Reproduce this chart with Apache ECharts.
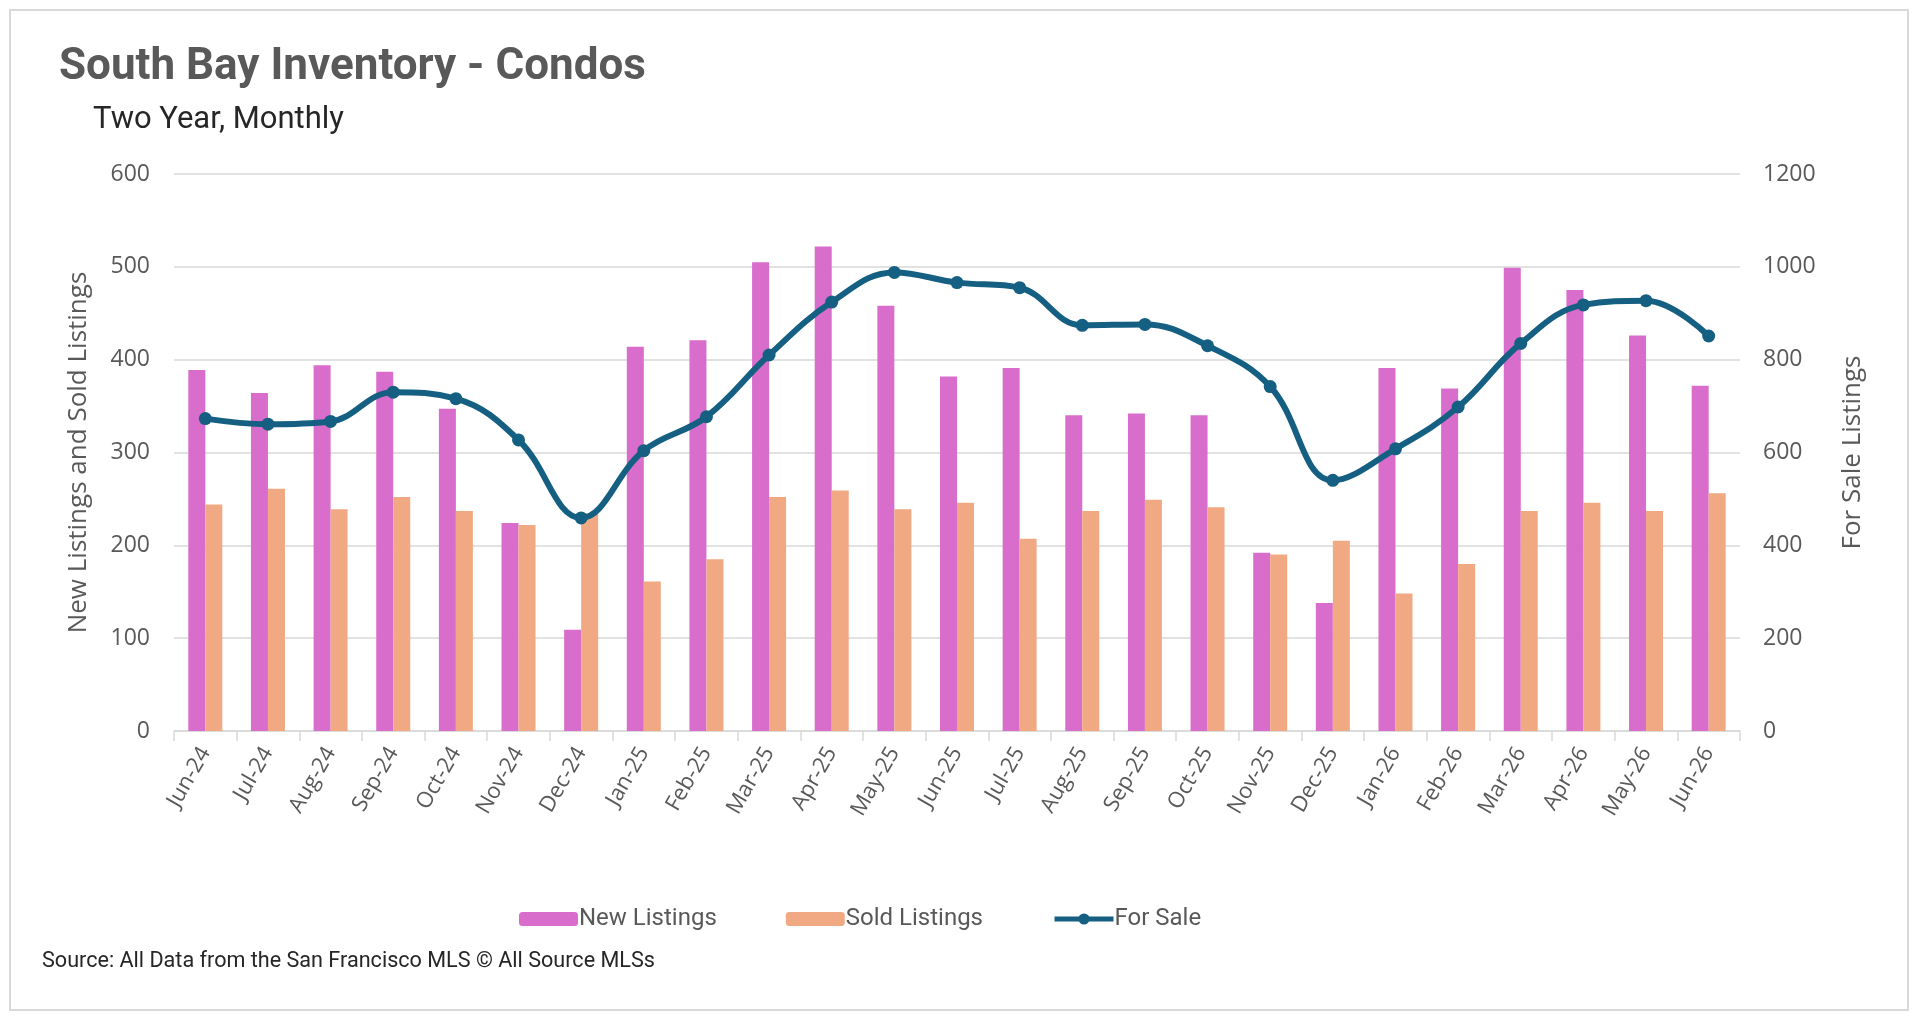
<!DOCTYPE html>
<html>
<head>
<meta charset="utf-8">
<title>South Bay Inventory - Condos</title>
<script src="https://cdn.jsdelivr.net/npm/echarts@6/dist/echarts.min.js"></script>
<style>
  html, body { margin: 0; padding: 0; background: #fff; }
  #chart_001 { width: 1920px; height: 1016px; }
</style>
</head>
<body>
<div id="chart_001"></div>
<script>
var months = ['Jun-24','Jul-24','Aug-24','Sep-24','Oct-24','Nov-24','Dec-24','Jan-25','Feb-25','Mar-25','Apr-25','May-25',
              'Jun-25','Jul-25','Aug-25','Sep-25','Oct-25','Nov-25','Dec-25','Jan-26','Feb-26','Mar-26','Apr-26','May-26','Jun-26'];
var newListings  = [389, 364, 394, 387, 347, 224, 109, 414, 421, 505, 522, 458, 382, 391, 340, 342, 340, 192, 138, 391, 369, 499, 475, 426, 372];
var soldListings = [244, 261, 239, 252, 237, 222, 234, 161, 185, 252, 259, 239, 246, 207, 237, 249, 241, 190, 205, 148, 180, 237, 246, 237, 256];
var forSale      = [673, 661, 667, 730, 716, 627, 459, 604, 677, 810, 924, 988, 966, 955, 874, 876, 830, 742, 540, 608, 698, 835, 918, 927, 851];
var leftTicks  = [0, 100, 200, 300, 400, 500, 600];
var rightTicks = [0, 200, 400, 600, 800, 1000, 1200];

var textFont = "Roboto, 'Liberation Sans', sans-serif";
var axisFont = "'Open Sans', Roboto, sans-serif";
var grey = '#595959';

var myChart = echarts.init(document.getElementById('chart_001'));

var option = {
    backgroundColor: '#ffffff',
    animation: false,
    title: [
        {
            text: 'South Bay Inventory - Condos',
            left: 54, top: 41,
            textStyle: { fontFamily: textFont, fontSize: 44, fontWeight: 'bold', color: grey }
        },
        {
            text: 'Two Year, Monthly',
            left: 88, top: 100,
            textStyle: { fontFamily: textFont, fontSize: 31, fontWeight: 'normal', color: '#262626' }
        },
        {
            text: 'Source: All Data from the San Francisco MLS \u00a9 All Source MLSs',
            left: 37, top: 946,
            textStyle: { fontFamily: textFont, fontSize: 21.6, fontWeight: 'normal', color: '#262626' }
        }
    ],
    legend: {
        left: 514, top: 902,
        itemWidth: 59, itemHeight: 14, itemGap: 69,
        textStyle: { fontFamily: textFont, fontSize: 24, color: grey, padding: [0, 0, 0, -4] },
        data: [
            'New Listings',
            'Sold Listings',
            { name: 'For Sale', lineStyle: { width: 5 } }
        ]
    },
    grid: { left: 174, right: 180, top: 174, bottom: 285 },
    xAxis: [{
        type: 'category',
        data: months,
        axisLine: { lineStyle: { color: '#d9d9d9', width: 1.5 } },
        axisTick: { show: true, length: 10, lineStyle: { color: '#d9d9d9', width: 1.5 } },
        axisLabel: { rotate: 60, margin: 18, fontFamily: axisFont, fontSize: 22, color: grey }
    }],
    yAxis: [
        {
            type: 'value', min: leftTicks[0], max: leftTicks[leftTicks.length - 1], interval: 100,
            name: 'New Listings and Sold Listings',
            nameLocation: 'middle', nameRotate: 90, nameGap: 82,
            nameTextStyle: { fontFamily: axisFont, fontSize: 26, color: grey },
            axisLine: { show: false }, axisTick: { show: false },
            axisLabel: { margin: 24, fontFamily: axisFont, fontSize: 23, color: grey },
            splitLine: { lineStyle: { color: '#d9d9d9', width: 1.5 } }
        },
        {
            type: 'value', min: rightTicks[0], max: rightTicks[rightTicks.length - 1], interval: 200,
            name: 'For Sale Listings',
            nameLocation: 'middle', nameRotate: 90, nameGap: 100,
            nameTextStyle: { fontFamily: axisFont, fontSize: 26, color: grey },
            axisLine: { show: false }, axisTick: { show: false },
            axisLabel: {
                margin: 23, fontFamily: axisFont, fontSize: 23, color: grey,
                formatter: function (v) { return String(v); }
            },
            splitLine: { show: false }
        }
    ],
    series: [
        {
            name: 'New Listings', type: 'bar',
            data: newListings,
            barWidth: 17, barGap: '0%',
            itemStyle: { color: '#D86DCB' }
        },
        {
            name: 'Sold Listings', type: 'bar',
            data: soldListings,
            barWidth: 17, barGap: '0%',
            itemStyle: { color: '#F1A983' }
        },
        {
            name: 'For Sale', type: 'line',
            yAxisIndex: 1,
            data: forSale,
            smooth: 0.4,
            symbol: 'circle', symbolSize: 13,
            lineStyle: { color: '#156082', width: 6 },
            itemStyle: { color: '#156082' }
        }
    ],
    graphic: [{
        type: 'rect',
        shape: { x: 10, y: 10, width: 1898, height: 1000 },
        style: { fill: 'none', stroke: '#d9d9d9', lineWidth: 2 },
        silent: true
    }]
};

myChart.setOption(option);
</script>
</body>
</html>
